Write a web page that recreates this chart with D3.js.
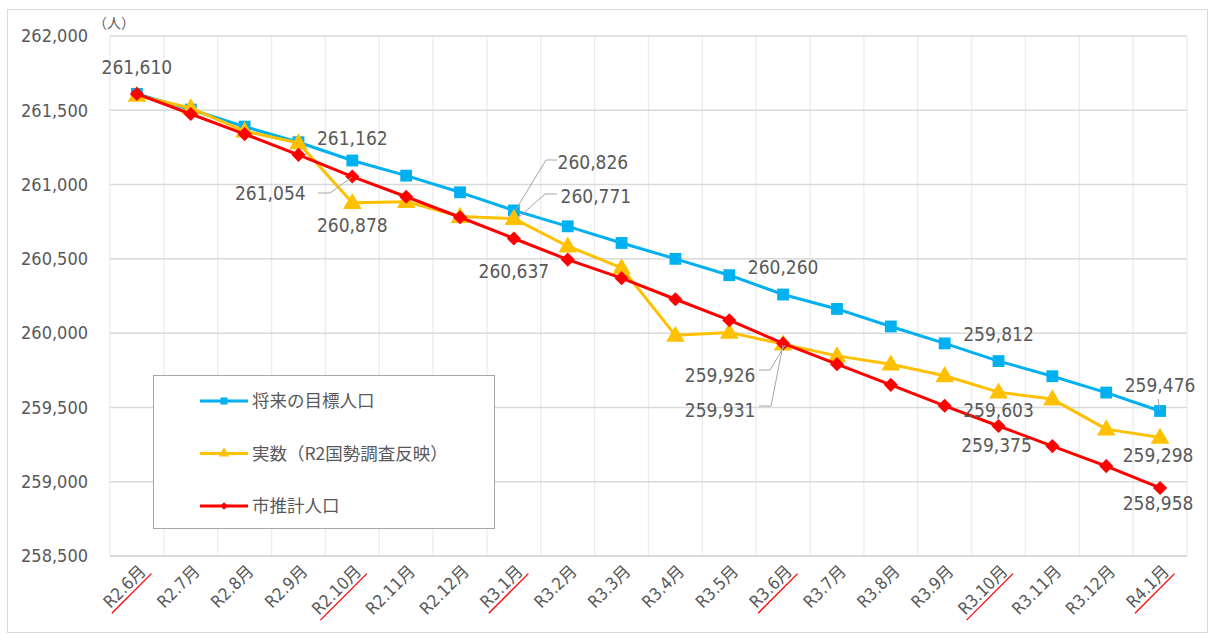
<!DOCTYPE html>
<html><head><meta charset="utf-8">
<script src="https://cdn.jsdelivr.net/npm/d3@7"></script>
<style>
body{margin:0;background:#fff;}
text{font-family:"Liberation Sans Narrow","DejaVu Sans Condensed","Noto Sans CJK JP",sans-serif;fill:#595959;}
.jp{font-family:"Noto Sans CJK JP",sans-serif;}
</style></head>
<body><svg id="c" width="1209" height="635"></svg>
<script>
const categories=["R2.6月","R2.7月","R2.8月","R2.9月","R2.10月","R2.11月","R2.12月","R3.1月","R3.2月","R3.3月","R3.4月","R3.5月","R3.6月","R3.7月","R3.8月","R3.9月","R3.10月","R3.11月","R3.12月","R4.1月"];
const underlined=["R2.6月","R2.10月","R3.1月","R3.6月","R3.10月","R4.1月"];
const target=[261610,261505,261390,261285,261162,261060,260948,260826,260719,260607,260500,260390,260260,260163,260045,259931,259812,259710,259600,259476];
const actual=[261600,261515,261360,261280,260878,260885,260785,260771,260585,260440,259985,260005,259926,259847,259791,259713,259603,259556,259354,259298];
const estimate=[261610,261475,261340,261200,261054,260918,260780,260637,260495,260370,260228,260087,259931,259791,259652,259511,259375,259240,259105,258958];
const seriesNames=["将来の目標人口","実数（R2国勢調査反映）","市推計人口"];
const yTicks=[258500,259000,259500,260000,260500,261000,261500,262000];
// labels: [seriesIndex, categoryIndex, dx, dy]
const labels=[
 [0,0,0,-27],[0,4,0,-22],[2,4,-82,17],[1,4,0,23],
 [0,7,79,-48],[1,7,82,-22],[2,7,0,33],[0,12,0,-27],
 [1,12,-63,31],[2,12,-63,67],[0,16,0,-27],[1,16,0,18],
 [2,16,-2,19],[0,19,0,-26],[1,19,-2,18],[2,19,-2,15]
];
const svg=d3.select("#c");
svg.append("rect").attr("x",7.5).attr("y",9.5).attr("width",1200).attr("height",623).attr("fill","#fff").attr("stroke","#d9d9d9");
const x=d3.scaleBand().domain(categories).range([110,1187]).padding(0);
const y=d3.scaleLinear().domain([258500,262000]).range([556,36]);
const cx=c=>x(c)+x.bandwidth()/2;
// grid
const g=svg.append("g");
g.selectAll(".vg").data(categories.concat([null])).join("line")
 .attr("x1",(d,i)=>i<categories.length?x(d):x.range()[1]).attr("x2",(d,i)=>i<categories.length?x(d):x.range()[1])
 .attr("y1",y(262000)).attr("y2",y(258500)).attr("stroke","#ececec").attr("stroke-width",1.3);
g.selectAll(".hg").data(yTicks).join("line")
 .attr("x1",110).attr("x2",1187).attr("y1",d=>y(d)).attr("y2",d=>y(d))
 .attr("stroke","#d9d9d9").attr("stroke-width",d=>d===258500?2:1.5);
// y axis labels
const yAxis=d3.axisLeft(y).tickValues(yTicks).tickFormat(d3.format(",")).tickSize(0).tickPadding(22);
const ya=svg.append("g").attr("transform","translate(110,0)").call(yAxis);
ya.select(".domain").remove();
ya.selectAll("text").attr("font-size",18).attr("fill","#595959").attr("font-family",null).style("font-family",'"Liberation Sans Narrow","DejaVu Sans Condensed",sans-serif');
svg.append("text").attr("class","jp").attr("x",93).attr("y",28).attr("font-size",14).text("（人）");
// x axis labels
const xl=svg.append("g").selectAll("g").data(categories).join("g")
 .attr("transform",d=>`translate(${cx(d)+6},${568}) rotate(-45)`);
xl.append("text").attr("text-anchor","end").attr("dy","0.35em").attr("font-size",17).text(d=>d);
xl.each(function(d){
 if(underlined.includes(d)){
  const w=d3.select(this).select("text").node().getComputedTextLength();
  d3.select(this).append("line").attr("x1",-w-2).attr("x2",2).attr("y1",10).attr("y2",10).attr("stroke","#ff0000").attr("stroke-width",1.3);
 }
});
// series
const colors=["#00B0F0","#FFC000","#FF0000"];
const data=[target,actual,estimate];
const line=d3.line().x((d,i)=>cx(categories[i])).y(d=>y(d));
const symbols=[d3.symbolSquare,d3.symbolTriangle,d3.symbolSquare];
const sizes=[140,150,100];
data.forEach((s,k)=>{
 svg.append("path").datum(s).attr("d",line).attr("fill","none").attr("stroke",colors[k]).attr("stroke-width",3).attr("stroke-linejoin","round");
 svg.append("g").selectAll("path").data(s).join("path")
  .attr("transform",(d,i)=>`translate(${cx(categories[i])},${y(d)+(k===1?1:0)})`+(k===2?" rotate(45)":""))
  .attr("d",d3.symbol().type(symbols[k]).size(sizes[k])).attr("fill",colors[k]);
});
// leaders
const leaders=[
 [[318,193],[330,193],[352,177]],
 [[557,160],[546,160],[515,211]],
 [[557,194],[545,194],[518,218]],
 [[759,370],[770,370],[785,345]],
 [[759,406],[771,406],[783,345]],
 [[1158,399],[1160,410]]
];
leaders.forEach(p=>{
 svg.append("path").attr("d",d3.line()(p)).attr("fill","none").attr("stroke","#a6a6a6").attr("stroke-width",1);
});
// data labels
const fmt=d3.format(",");
svg.append("g").selectAll("text").data(labels).join("text")
 .attr("x",d=>cx(categories[d[1]])+d[2]).attr("y",d=>y(data[d[0]][d[1]])+d[3])
 .attr("text-anchor","middle").attr("dy","0.35em").attr("font-size",19)
 .text(d=>fmt(data[d[0]][d[1]]));
// legend
const lg=svg.append("g");
lg.append("rect").attr("x",153.5).attr("y",375.5).attr("width",341).attr("height",153).attr("fill","#fff").attr("stroke","#a6a6a6");
seriesNames.forEach((n,k)=>{
 const yy=401+k*52.5;
 lg.append("line").attr("x1",200).attr("x2",248).attr("y1",yy).attr("y2",yy).attr("stroke",colors[k]).attr("stroke-width",3);
 lg.append("path").attr("transform",`translate(224,${yy})`+(k===2?" rotate(45)":"")).attr("d",d3.symbol().type(symbols[k]).size(k===2?30:50)).attr("fill",colors[k]);
 lg.append("text").attr("class","jp").attr("x",252).attr("y",yy).attr("dy","0.35em").attr("font-size",17.5).text(n);
});
</script></body></html>
